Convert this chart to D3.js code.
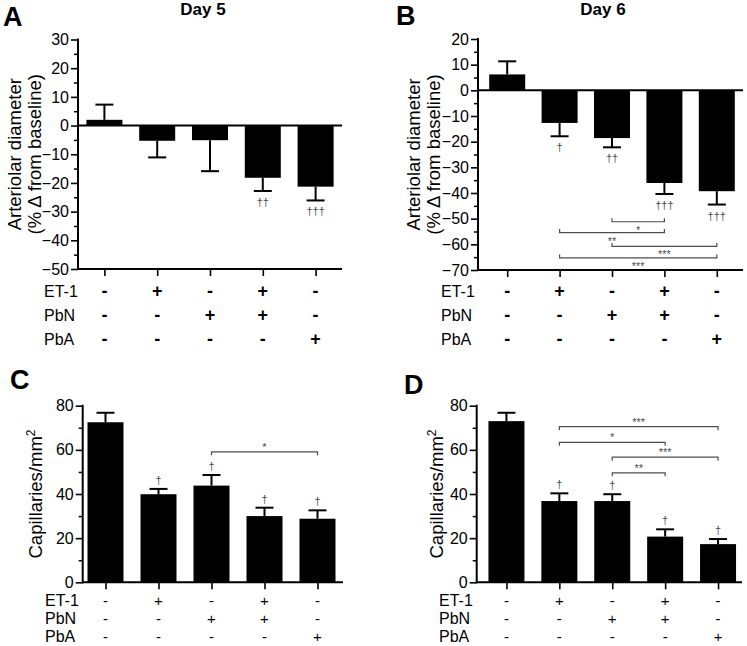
<!DOCTYPE html>
<html>
<head>
<meta charset="utf-8">
<script src="https://cdn.jsdelivr.net/npm/d3@7/dist/d3.min.js"></script>
<style>
  html, body { margin: 0; padding: 0; background: #fff; }
  svg { display: block; font-family: "Liberation Sans", Arial, Helvetica, sans-serif; }
</style>
</head>
<body>
<svg id="chart" width="747" height="646"></svg>
<script>
// ---------------- DATA ----------------
const groups = ["Control", "ET-1", "PbN", "ET-1+PbN", "PbA"];
const rowLabels = ["ET-1", "PbN", "PbA"];
const et1Signs = ["-", "+", "-", "+", "-"];
const pbnSigns = ["-", "-", "+", "+", "-"];
const pbaSigns = ["-", "-", "-", "-", "+"];

const titles = ["Day 5", "Day 6"];
const panelLetters = ["A", "B", "C", "D"];

const diameterDay5 = [2.0, -5.3, -5.1, -18.2, -21.3];
const diameterDay5Err = [5.3, 5.8, 10.8, 4.6, 4.8];
const diameterDay6 = [6.2, -12.7, -18.6, -36.1, -39.3];
const diameterDay6Err = [5.1, 5.2, 3.6, 4.3, 5.2];

const capillaryDay5 = [72.5, 39.9, 43.8, 30.0, 28.8];
const capillaryDay5Err = [4.3, 2.4, 4.8, 3.8, 3.8];
const capillaryDay6 = [73.0, 36.8, 36.8, 20.7, 17.3];
const capillaryDay6Err = [3.8, 3.5, 3.1, 3.3, 2.3];

const daggersA = ["", "", "", "††", "†††"];
const daggersB = ["", "†", "††", "†††", "†††"];
const daggersC = ["", "†", "†", "†", "†"];
const daggersD = ["", "†", "†", "†", "†"];

// comparisons: [groupIndexA, groupIndexB, label, bracket level (data units)]
const compB = [[2, 3, "*", -51.2], [1, 3, "**", -55.4], [2, 4, "***", -60.8], [1, 4, "***", -65.3]];
const compC = [[2, 4, "*", 59.1]];
const compD = [[1, 4, "***", 70.5], [1, 3, "*", 63.4], [2, 4, "***", 56.7], [2, 3, "**", 49.6]];

const diamTicks = { A: [30, 20, 10, 0, -10, -20, -30, -40, -50], B: [20, 10, 0, -10, -20, -30, -40, -50, -60, -70] };
const capTicks = [0, 20, 40, 60, 80];

// ---------------- DRAW ----------------
const svg = d3.select("#chart");
const markGrey = "#4d4d4d";

function panel(cfg) {
  const g = svg.append("g");
  const y = d3.scaleLinear().domain(cfg.yDomain).range(cfg.yRange);
  const x = d3.scalePoint().domain(d3.range(groups.length)).range(cfg.xRange).padding(0.5);
  const yBottom = y(cfg.yDomain[0]);
  const barW = 36;

  // minor ticks
  const minor = d3.range(cfg.yDomain[0], cfg.yDomain[1] + 0.001, cfg.minorStep)
    .filter(v => cfg.ticks.indexOf(v) < 0);
  g.append("g").attr("transform", `translate(${cfg.axisX},0)`)
    .call(d3.axisLeft(y).tickValues(minor).tickSize(4).tickSizeOuter(0).tickFormat(""))
    .call(s => s.select(".domain").remove())
    .call(s => s.selectAll("line").attr("stroke-width", 1.5));
  // major ticks
  g.append("g").attr("transform", `translate(${cfg.axisX},0)`)
    .call(d3.axisLeft(y).tickValues(cfg.ticks).tickSize(7).tickPadding(2).tickSizeOuter(0))
    .call(s => s.select(".domain").remove())
    .call(s => s.selectAll("line").attr("stroke-width", 1.6))
    .call(s => s.selectAll("text").attr("font-size", 16).attr("fill", "#000")
      .attr("font-family", '"Liberation Sans", Arial, sans-serif'));
  // y axis line
  g.append("line").attr("x1", cfg.axisX).attr("x2", cfg.axisX)
    .attr("y1", y(cfg.yDomain[1]) - 1).attr("y2", yBottom + 1)
    .attr("stroke", "#000").attr("stroke-width", 2);

  // bottom axis ticks
  g.append("g").attr("transform", `translate(0,${yBottom})`)
    .call(d3.axisBottom(x).tickSize(7).tickSizeOuter(0).tickFormat(""))
    .call(s => s.select(".domain").remove())
    .call(s => s.selectAll("line").attr("stroke-width", 1.6));
  g.append("line").attr("x1", cfg.axisX).attr("x2", cfg.xEnd)
    .attr("y1", yBottom).attr("y2", yBottom)
    .attr("stroke", "#000").attr("stroke-width", 2);

  // bars
  g.selectAll("rect.bar").data(cfg.values).enter().append("rect")
    .attr("class", "bar")
    .attr("x", (d, i) => x(i) - barW / 2)
    .attr("width", barW)
    .attr("y", d => Math.min(y(d), y(0)))
    .attr("height", d => Math.abs(y(d) - y(0)))
    .attr("fill", "#000");

  // error bars
  cfg.values.forEach((v, i) => {
    const end = v >= 0 ? v + cfg.errors[i] : v - cfg.errors[i];
    g.append("line").attr("x1", x(i)).attr("x2", x(i))
      .attr("y1", y(v)).attr("y2", y(end))
      .attr("stroke", "#000").attr("stroke-width", 2);
    g.append("line").attr("x1", x(i) - 9).attr("x2", x(i) + 9)
      .attr("y1", y(end)).attr("y2", y(end))
      .attr("stroke", "#000").attr("stroke-width", 2);
    const dg = cfg.daggers[i];
    if (dg) {
      const ty = v >= 0 ? y(end) - 5 : y(end) + 15;
      g.append("text").attr("x", x(i)).attr("y", ty)
        .attr("text-anchor", "middle").attr("font-size", 11).attr("fill", markGrey)
        .text(dg);
    }
  });

  // zero line for diameter panels
  if (cfg.yDomain[0] < 0) {
    g.append("line").attr("x1", cfg.axisX).attr("x2", cfg.xEnd)
      .attr("y1", y(0)).attr("y2", y(0))
      .attr("stroke", "#000").attr("stroke-width", 2);
  }

  // comparison brackets
  cfg.comps.forEach(c => {
    const x1 = x(c[0]), x2 = x(c[1]), ly = y(c[3]);
    const dir = cfg.bracketUp ? -1 : 1;  // tick direction
    g.append("path")
      .attr("d", `M${x1},${ly + dir * 3.5}V${ly}H${x2}V${ly + dir * 3.5}`)
      .attr("fill", "none").attr("stroke", markGrey).attr("stroke-width", 1.2);
    const sy = cfg.bracketUp ? ly + 12 : ly - 1;
    g.append("text").attr("x", (x1 + x2) / 2).attr("y", sy)
      .attr("text-anchor", "middle").attr("font-size", 11).attr("fill", markGrey)
      .text(c[2]);
  });

  // y label
  const yMid = (y(cfg.yDomain[0]) + y(cfg.yDomain[1])) / 2;
  cfg.yLabel.forEach((line, k) => {
    const t = g.append("text")
      .attr("transform", `translate(${cfg.yLabelX[k]},${yMid}) rotate(-90)`)
      .attr("text-anchor", "middle").attr("font-size", 18.5).attr("fill", "#000");
    if (typeof line === "string") t.text(line);
    else {
      t.append("tspan").text(line[0]);
      t.append("tspan").attr("dy", -7).attr("font-size", 12).text(line[1]);
    }
  });

  // sign table
  const rows = [et1Signs, pbnSigns, pbaSigns];
  rows.forEach((signs, r) => {
    const by = cfg.rowY[r];
    g.append("text").attr("x", cfg.rowLabelX).attr("y", by)
      .attr("font-size", 16).attr("fill", "#000").text(rowLabels[r]);
    signs.forEach((s, i) => {
      g.append("text").attr("x", x(i)).attr("y", by)
        .attr("text-anchor", "middle")
        .attr("font-size", cfg.signSize).attr("font-weight", cfg.signWeight)
        .attr("fill", "#000").text(s);
    });
  });

  // title
  if (cfg.title) {
    g.append("text").attr("x", cfg.titleX).attr("y", 15)
      .attr("text-anchor", "middle").attr("font-size", 17).attr("font-weight", "bold")
      .text(cfg.title);
  }
  // letter
  g.append("text").attr("x", cfg.letterPos[0]).attr("y", cfg.letterPos[1])
    .attr("font-size", 27).attr("font-weight", "bold").text(cfg.letter);
}

panel({
  values: diameterDay5, errors: diameterDay5Err, daggers: daggersA, comps: [],
  yDomain: [-50, 30], yRange: [269, 39.5], ticks: diamTicks.A, minorStep: 5,
  axisX: 78, xRange: [78, 342], xEnd: 342,
  yLabel: ["Arteriolar diameter", "(% Δ from baseline)"], yLabelX: [21, 41],
  rowY: [297, 321, 345], rowLabelX: 44, signSize: 18, signWeight: "bold",
  title: titles[0], titleX: 203, letter: panelLetters[0], letterPos: [3, 26], bracketUp: true
});
panel({
  values: diameterDay6, errors: diameterDay6Err, daggers: daggersB, comps: compB,
  yDomain: [-70, 20], yRange: [270, 39], ticks: diamTicks.B, minorStep: 5,
  axisX: 478, xRange: [481, 743], xEnd: 743,
  yLabel: ["Arteriolar diameter", "(% Δ from baseline)"], yLabelX: [420, 440],
  rowY: [297, 321, 345], rowLabelX: 441, signSize: 18, signWeight: "bold",
  title: titles[1], titleX: 603, letter: panelLetters[1], letterPos: [396, 25], bracketUp: true
});
panel({
  values: capillaryDay5, errors: capillaryDay5Err, daggers: daggersC, comps: compC,
  yDomain: [0, 80], yRange: [582.3, 405.7], ticks: capTicks, minorStep: 10,
  axisX: 82.7, xRange: [79, 344], xEnd: 343,
  yLabel: [["Capillaries/mm", "2"]], yLabelX: [42],
  rowY: [606, 624, 642], rowLabelX: 45, signSize: 15, signWeight: "normal",
  title: null, letter: panelLetters[2], letterPos: [10, 389], bracketUp: false
});
panel({
  values: capillaryDay6, errors: capillaryDay6Err, daggers: daggersD, comps: compD,
  yDomain: [0, 80], yRange: [582.3, 405.7], ticks: capTicks, minorStep: 10,
  axisX: 476.7, xRange: [480, 744.5], xEnd: 742,
  yLabel: [["Capillaries/mm", "2"]], yLabelX: [443],
  rowY: [606, 624, 642], rowLabelX: 439, signSize: 15, signWeight: "normal",
  title: null, letter: panelLetters[3], letterPos: [404, 394], bracketUp: false
});
</script>
</body>
</html>
